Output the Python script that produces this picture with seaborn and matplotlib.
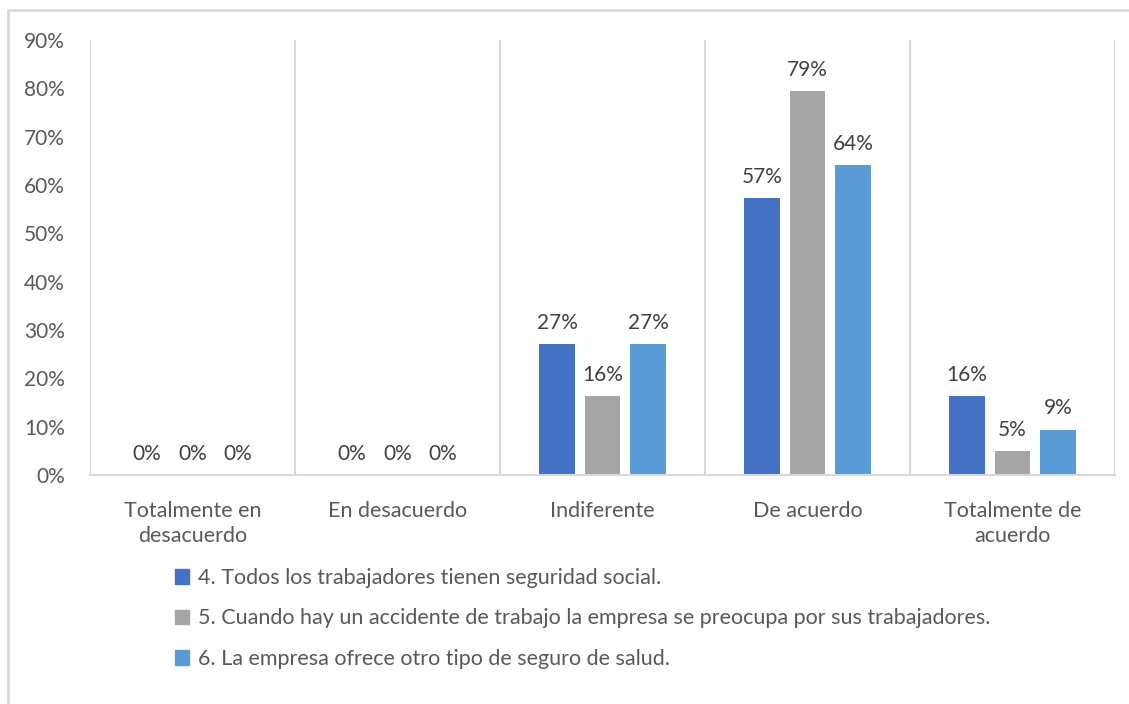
import matplotlib
matplotlib.use("Agg")
import matplotlib.pyplot as plt
import matplotlib.patches as mpatches
import seaborn as sns
import pandas as pd
import numpy as np

categories = ["Totalmente en\ndesacuerdo", "En desacuerdo", "Indiferente", "De acuerdo", "Totalmente de\nacuerdo"]
series_names = [
    "4. Todos los trabajadores tienen seguridad social.",
    "5. Cuando hay un accidente de trabajo la empresa se preocupa por sus trabajadores.",
    "6. La empresa ofrece otro tipo de seguro de salud.",
]
s4 = [0.0, 0.0, 0.271, 0.573, 0.164]
s5 = [0.0, 0.0, 0.164, 0.794, 0.050]
s6 = [0.0, 0.0, 0.271, 0.641, 0.094]
colors = ["#4472C4", "#A5A5A5", "#5B9BD5"]
yticks = [0.0, 0.1, 0.2, 0.3, 0.4, 0.5, 0.6, 0.7, 0.8, 0.9]

rows = []
for name, vals in zip(series_names, [s4, s5, s6]):
    for c, v in zip(categories, vals):
        rows.append({"cat": c, "serie": name, "val": v})
df = pd.DataFrame(rows)

sns.set_theme(style="white")
plt.rcParams["font.family"] = ["Lato", "DejaVu Sans"]
text_color = "#595959"
grid_color = "#D9D9D9"

fig = plt.figure(figsize=(11.29, 7.04), dpi=100)
ax = fig.add_axes([90 / 1129, 1 - 475 / 704, (1115 - 90) / 1129, (475 - 40) / 704])

sns.barplot(data=df, x="cat", y="val", hue="serie", order=categories, hue_order=series_names,
            palette=colors, width=0.666, gap=0.21, ax=ax, legend=False, errorbar=None,
            saturation=1, edgecolor="none")

for cont in ax.containers:
    ax.bar_label(cont, labels=[f"{b.get_height():.0%}" for b in cont], padding=8,
                 fontsize=15, color="#404040")

ax.set_ylim(0, 0.9)
ax.set_xlim(-0.5, len(categories) - 0.5)
ax.set_yticks(yticks)
ax.set_yticklabels([f"{t:.0%}" for t in yticks], fontsize=15, color=text_color)
ax.set_xticklabels(categories, fontsize=15.5, color=text_color, linespacing=1.3)
ax.tick_params(axis="y", length=0, pad=18)
ax.tick_params(axis="x", length=0, pad=19)
ax.set_xlabel("")
ax.set_ylabel("")
for sp in ["top", "right", "left"]:
    ax.spines[sp].set_visible(False)
ax.spines["bottom"].set_color(grid_color)
ax.spines["bottom"].set_linewidth(1.5)
for b in np.arange(len(categories) + 1) - 0.5:
    ax.axvline(b, color=grid_color, lw=1.5, zorder=0)

handles = [mpatches.Patch(color=c) for c in colors]
fig.legend(handles, series_names, loc="upper left", bbox_to_anchor=(175 / 1129, 1 - 568 / 704),
           frameon=False, fontsize=15.5, labelcolor=text_color, handlelength=0.65, handleheight=0.65,
           handletextpad=0.4, labelspacing=0.95, borderpad=0, borderaxespad=0)

border = mpatches.Rectangle((8 / 1129, -0.2), 1.5, 1.2 - 10 / 704, transform=fig.transFigure,
                            fill=False, edgecolor=grid_color, lw=2, clip_on=False)
fig.patches.append(border)

fig.savefig("out.png", dpi=100)
